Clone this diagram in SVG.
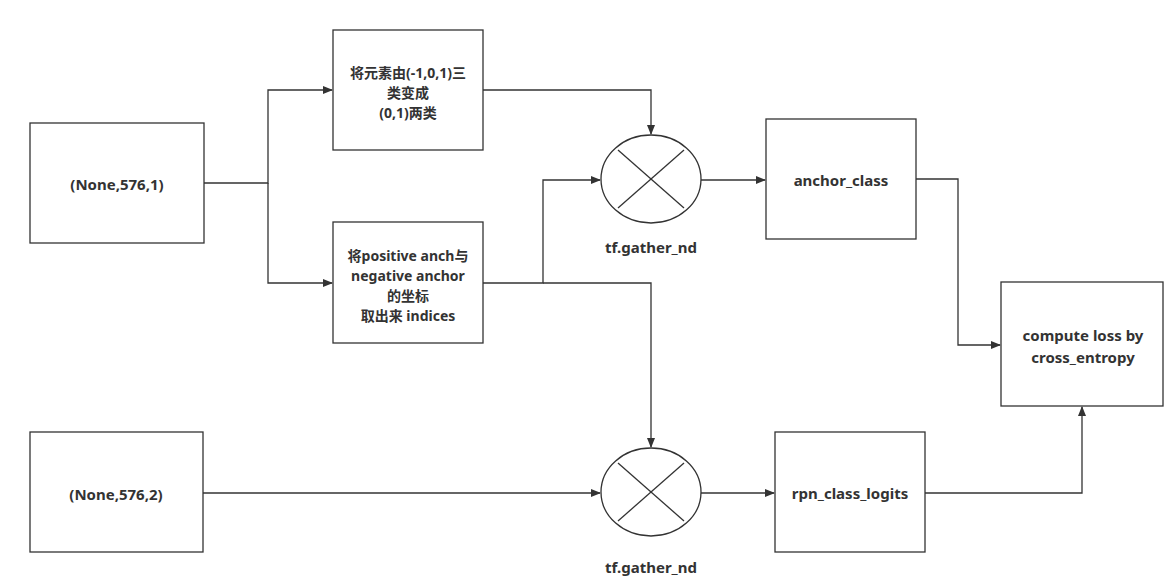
<svg xmlns="http://www.w3.org/2000/svg" width="1174" height="584" viewBox="0 0 1174 584">
<style>
.box{fill:#fff;stroke:#333;stroke-width:1.3}
.op{fill:#fff;stroke:#333;stroke-width:1.3}
.x{stroke:#333;stroke-width:1.3}
.c{fill:none;stroke:#333;stroke-width:1.3}
text{font-family:"Noto Sans","Noto Sans CJK SC",sans-serif;font-weight:bold;font-size:15px;fill:#333;text-anchor:middle;dominant-baseline:central}
.s{font-size:14px}
</style>
<defs>
<marker id="a" markerWidth="10" markerHeight="8" refX="9" refY="4" orient="auto" markerUnits="userSpaceOnUse">
<path d="M0,0 L10,4 L0,8 Z" fill="#333"/>
</marker>
</defs>
<rect width="1174" height="584" fill="#fff"/>
<g id="connectors">
<path class="c" d="M204,183 H268 V90 H332" marker-end="url(#a)"/>
<path class="c" d="M268,183 V283 H332" marker-end="url(#a)"/>
<path class="c" d="M483,90 H651 V134" marker-end="url(#a)"/>
<path class="c" d="M483,283 H543 V180 H600" marker-end="url(#a)"/>
<path class="c" d="M543,283 H651 V447" marker-end="url(#a)"/>
<path class="c" d="M701,180 H765" marker-end="url(#a)"/>
<path class="c" d="M916,179 H958 V345 H1000" marker-end="url(#a)"/>
<path class="c" d="M203,493 H600" marker-end="url(#a)"/>
<path class="c" d="M701,493 H774" marker-end="url(#a)"/>
<path class="c" d="M925,493 H1082 V407" marker-end="url(#a)"/>
</g>
<g id="in1"><rect class="box" x="30" y="123" width="174" height="120"/><text x="117" y="184">(None,576,1)</text></g>
<g id="in2"><rect class="box" x="30" y="432" width="173" height="120"/><text x="116" y="494">(None,576,2)</text></g>
<g id="conv"><rect class="box" x="333" y="30" width="150" height="120"/>
<text class="s" x="408" y="72">将元素由(-1,0,1)三</text><text class="s" x="408" y="92">类变成</text><text class="s" x="408" y="112">(0,1)两类</text></g>
<g id="idx"><rect class="box" x="333" y="222" width="150" height="121"/>
<text class="s" x="408" y="255">将positive anch与</text><text class="s" x="408" y="275">negative anchor</text><text class="s" x="408" y="295">的坐标</text><text class="s" x="408" y="315">取出来 indices</text></g>
<g id="g1"><ellipse class="op" cx="651" cy="179" rx="50" ry="44"/><line class="x" x1="618" y1="150" x2="684" y2="208"/><line class="x" x1="684" y1="150" x2="618" y2="208"/><text x="651" y="247">tf.gather_nd</text></g>
<g id="g2"><ellipse class="op" cx="651" cy="492" rx="50" ry="44"/><line class="x" x1="618" y1="463" x2="684" y2="521"/><line class="x" x1="684" y1="463" x2="618" y2="521"/><text x="651" y="567">tf.gather_nd</text></g>
<g id="ac"><rect class="box" x="766" y="119" width="150" height="120"/><text x="841" y="180">anchor_class</text></g>
<g id="rpn"><rect class="box" x="775" y="432" width="150" height="120"/><text x="850" y="493">rpn_class_logits</text></g>
<g id="loss"><rect class="box" x="1001" y="282" width="162" height="124"/><text x="1083" y="335">compute loss by</text><text x="1083" y="357">cross_entropy</text></g>
</svg>
